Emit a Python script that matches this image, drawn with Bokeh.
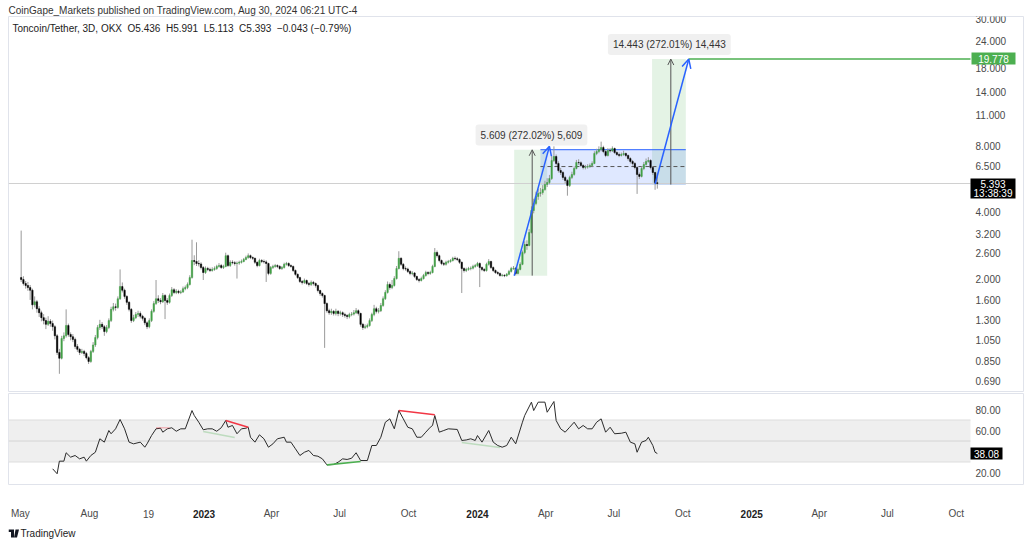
import math
import pandas as pd
from bokeh.plotting import figure
from bokeh.layouts import column
from bokeh.models import (Range1d, Label, BoxAnnotation, Arrow, OpenHead, ColumnDataSource)
from bokeh.core.properties import value
from bokeh.embed import file_html
from bokeh.resources import INLINE

# ---------------- data ----------------
last_candle = "2024-08-28"
n_candles = 284
first_open = 2.02

closes = [
    1.98, 1.90, 1.86, 1.82, 1.77, 1.52, 1.57, 1.46, 1.40, 1.33,
    1.29, 1.24, 1.28, 1.25, 1.21, 1.10, 0.925, 0.87, 1.07, 1.10,
    1.225, 1.115, 1.09, 1.06, 0.985, 0.955, 0.925, 0.935, 0.915, 0.876,
    0.842, 0.935, 1.00, 1.08, 1.20, 1.24, 1.21, 1.15, 1.20, 1.29,
    1.45, 1.49, 1.48, 1.62, 1.84, 1.77, 1.66, 1.56, 1.45, 1.29,
    1.33, 1.375, 1.39, 1.35, 1.32, 1.26, 1.21, 1.29, 1.42, 1.54,
    1.62, 1.59, 1.57, 1.675, 1.59, 1.56, 1.675, 1.78, 1.73, 1.75,
    1.73, 1.74, 1.80, 1.82, 1.88, 2.02, 2.415, 2.39, 2.34, 2.33,
    2.245, 2.13, 2.22, 2.20, 2.175, 2.20, 2.22, 2.27, 2.29, 2.245,
    2.27, 2.54, 2.29, 2.37, 2.36, 2.34, 2.35, 2.37, 2.39, 2.44,
    2.49, 2.54, 2.49, 2.47, 2.37, 2.29, 2.415, 2.39, 2.38, 2.34,
    2.11, 2.245, 2.27, 2.29, 2.27, 2.22, 2.245, 2.32, 2.34, 2.29,
    2.27, 2.175, 2.09, 2.02, 1.94, 1.92, 1.96, 1.90, 1.88, 1.92,
    1.90, 1.86, 1.765, 1.71, 1.675, 1.54, 1.43, 1.40, 1.42, 1.39,
    1.42, 1.39, 1.40, 1.375, 1.36, 1.345, 1.375, 1.38, 1.40, 1.43,
    1.39, 1.24, 1.20, 1.21, 1.225, 1.29, 1.375, 1.46, 1.42, 1.43,
    1.51, 1.62, 1.73, 1.88, 1.82, 1.86, 2.00, 2.22, 2.47, 2.32,
    2.22, 2.21, 2.155, 2.11, 2.12, 2.045, 1.98, 1.96, 2.00, 2.065,
    2.13, 2.11, 2.13, 2.27, 2.625, 2.54, 2.415, 2.34, 2.32, 2.37,
    2.39, 2.415, 2.47, 2.46, 2.44, 2.37, 2.22, 2.175, 2.20, 2.22,
    2.23, 2.27, 2.29, 2.34, 2.245, 2.20, 2.175, 2.32, 2.39, 2.245,
    2.175, 2.13, 2.11, 2.065, 2.07, 2.06, 2.09, 2.155, 2.22, 2.23,
    2.11, 2.20, 2.32, 2.625, 2.85, 2.825, 3.235, 4.07, 4.38, 4.71,
    4.86, 4.91, 5.07, 5.34, 5.45, 5.68, 6.86, 7.15, 6.65, 6.18,
    6.05, 5.75, 5.57, 5.28, 5.75, 5.93, 6.31, 6.72, 6.70, 6.51,
    6.38, 6.40, 6.44, 6.51, 6.65, 7.38, 7.53, 7.69, 7.85, 7.53,
    7.23, 7.61, 7.58, 7.77, 7.45, 7.30, 7.23, 7.30, 7.38, 7.23,
    7.00, 6.79, 6.65, 6.38, 5.93, 5.81, 6.31, 6.58, 6.79, 6.86,
    6.38, 6.05, 5.436, 5.393,
]

highs = [
    3.30, 2.05, 1.95, 1.93, 1.87, 1.80, 1.66, 1.60, 1.50, 1.43,
    1.38, 1.33, 1.35, 1.31, 1.29, 1.23, 1.12, 0.96, 1.10, 1.14,
    1.45, 1.25, 1.14, 1.12, 1.08, 1.01, 0.97, 0.96, 0.95, 0.93,
    0.89, 0.95, 1.03, 1.11, 1.23, 1.30, 1.27, 1.23, 1.23, 1.32,
    1.49, 1.55, 1.54, 1.66, 2.20, 1.92, 1.80, 1.68, 1.58, 1.47,
    1.37, 1.41, 1.43, 1.42, 1.37, 1.34, 1.28, 1.32, 1.45, 1.58,
    1.97, 1.68, 1.63, 1.72, 1.70, 1.63, 1.71, 1.83, 1.81, 1.79,
    1.78, 1.77, 1.84, 1.86, 1.92, 2.07, 3.00, 2.55, 2.92, 2.42,
    2.37, 2.28, 2.27, 2.26, 2.24, 2.25, 2.27, 2.31, 2.35, 2.33,
    2.31, 2.62, 2.57, 2.42, 2.42, 2.40, 2.39, 2.41, 2.44, 2.48,
    2.54, 2.60, 2.57, 2.52, 2.49, 2.39, 2.46, 2.45, 2.44, 2.42,
    2.36, 2.28, 2.31, 2.33, 2.32, 2.30, 2.28, 2.36, 2.38, 2.37,
    2.32, 2.29, 2.20, 2.11, 2.04, 1.97, 2.00, 1.98, 1.93, 1.96,
    1.95, 1.92, 1.88, 1.78, 1.73, 1.69, 1.56, 1.46, 1.46, 1.44,
    1.46, 1.44, 1.43, 1.42, 1.40, 1.38, 1.40, 1.41, 1.44, 1.47,
    1.45, 1.40, 1.26, 1.24, 1.25, 1.32, 1.40, 1.52, 1.49, 1.47,
    1.55, 1.66, 1.77, 1.94, 1.92, 1.97, 2.05, 2.28, 2.66, 2.50,
    2.35, 2.27, 2.24, 2.18, 2.16, 2.14, 2.06, 2.01, 2.04, 2.10,
    2.17, 2.16, 2.17, 2.31, 2.75, 2.68, 2.57, 2.44, 2.38, 2.41,
    2.43, 2.45, 2.51, 2.52, 2.50, 2.47, 2.39, 2.25, 2.24, 2.26,
    2.27, 2.31, 2.33, 2.38, 2.37, 2.27, 2.23, 2.36, 2.45, 2.41,
    2.27, 2.20, 2.16, 2.13, 2.10, 2.09, 2.12, 2.19, 2.26, 2.28,
    2.25, 2.24, 2.37, 2.68, 2.95, 2.98, 3.35, 4.25, 4.60, 4.95,
    5.10, 5.15, 5.30, 5.55, 5.70, 5.90, 7.20, 7.95, 7.30, 6.80,
    6.35, 6.15, 5.85, 5.65, 5.85, 6.10, 6.45, 6.90, 6.95, 6.80,
    6.60, 6.55, 6.60, 6.65, 6.80, 7.55, 7.75, 7.95, 8.35, 8.00,
    7.65, 7.80, 7.80, 7.95, 7.85, 7.55, 7.45, 7.45, 7.60, 7.45,
    7.30, 7.10, 6.90, 6.75, 6.45, 6.05, 6.45, 6.75, 7.00, 7.10,
    6.95, 6.45, 6.10, 5.991,
]

lows = [
    1.93, 1.86, 1.80, 1.76, 1.60, 1.45, 1.48, 1.40, 1.34, 1.28,
    1.24, 1.18, 1.22, 1.21, 1.16, 1.06, 0.90, 0.74, 0.86, 1.04,
    1.08, 1.09, 1.05, 1.03, 0.96, 0.93, 0.90, 0.91, 0.89, 0.86,
    0.82, 0.83, 0.92, 0.98, 1.06, 1.17, 1.18, 1.10, 1.13, 1.18,
    1.27, 1.42, 1.43, 1.46, 1.60, 1.73, 1.62, 1.52, 1.42, 1.26,
    1.27, 1.31, 1.34, 1.32, 1.29, 1.23, 1.18, 1.19, 1.27, 1.40,
    1.52, 1.55, 1.53, 1.55, 1.31, 1.52, 1.54, 1.65, 1.70, 1.70,
    1.70, 1.70, 1.72, 1.77, 1.79, 1.86, 2.00, 2.30, 2.28, 2.27,
    2.20, 1.97, 2.10, 2.16, 2.14, 2.15, 2.17, 2.19, 2.24, 2.21,
    2.21, 2.25, 2.26, 2.26, 2.32, 2.29, 2.00, 2.31, 2.34, 2.37,
    2.42, 2.46, 2.45, 2.43, 2.33, 2.25, 2.27, 2.35, 2.34, 1.93,
    2.07, 2.08, 2.21, 2.24, 2.23, 2.19, 2.19, 2.22, 2.29, 2.26,
    2.24, 2.14, 2.06, 1.99, 1.91, 1.88, 1.89, 1.87, 1.84, 1.85,
    1.86, 1.82, 1.73, 1.67, 1.64, 0.97, 1.40, 1.37, 1.37, 1.36,
    1.36, 1.35, 1.36, 1.34, 1.33, 1.31, 1.32, 1.35, 1.36, 1.38,
    1.36, 1.21, 1.17, 1.18, 1.19, 1.21, 1.27, 1.35, 1.39, 1.39,
    1.41, 1.49, 1.60, 1.71, 1.78, 1.79, 1.84, 1.98, 2.20, 2.28,
    2.18, 2.17, 2.12, 2.07, 2.07, 2.01, 1.95, 1.92, 1.94, 1.98,
    2.04, 2.07, 2.08, 2.11, 2.25, 2.49, 2.37, 2.30, 2.28, 2.29,
    2.34, 2.36, 2.39, 2.42, 2.40, 2.33, 1.72, 2.13, 2.14, 2.17,
    2.18, 2.20, 2.24, 2.26, 1.83, 2.16, 2.14, 2.15, 2.29, 2.21,
    2.14, 2.10, 2.08, 2.04, 2.04, 2.03, 2.04, 2.07, 2.13, 2.19,
    2.07, 2.09, 2.18, 2.30, 2.58, 2.70, 2.80, 3.20, 3.95, 4.30,
    4.55, 4.70, 4.80, 5.00, 5.20, 5.35, 5.60, 6.75, 6.50, 6.05,
    5.90, 5.60, 5.40, 4.75, 5.20, 5.65, 5.85, 6.25, 6.55, 6.40,
    6.25, 6.25, 6.30, 6.35, 6.40, 6.60, 7.25, 7.40, 7.55, 7.40,
    7.10, 7.15, 7.45, 7.50, 7.35, 7.20, 7.10, 7.15, 7.20, 7.10,
    6.85, 6.65, 6.50, 6.25, 4.84, 5.65, 5.75, 6.20, 6.50, 6.70,
    6.25, 5.90, 5.05, 5.113,
]

# RSI(14) readings: candle index -> value
rsi_idx = [
    14, 16, 17, 19, 20, 22, 24, 26, 28, 29,
    31, 33, 35, 37, 39, 40, 42, 44, 46, 48,
    50, 53, 55, 56, 58, 60, 62, 63, 65, 67,
    69, 71, 73, 76, 77, 79, 81, 83, 85, 87,
    89, 91, 92, 94, 96, 98, 100, 101, 102, 104,
    106, 108, 110, 112, 114, 117, 118, 120, 122, 124,
    126, 128, 130, 132, 134, 136, 139, 141, 143, 145,
    147, 149, 151, 154, 156, 158, 160, 162, 164, 166,
    168, 170, 172, 174, 176, 178, 180, 182, 183, 184,
    186, 188, 190, 194, 196, 198, 200, 202, 203, 205,
    208, 210, 212, 214, 216, 218, 220, 223, 224, 227,
    228, 230, 233, 234, 237, 238, 240, 242, 244, 246,
    248, 250, 252, 254, 256, 258, 260, 262, 264, 267,
    269, 271, 273, 274, 276, 278, 279, 281, 282, 283,
]
rsi_val = [
    23.5, 18.8, 30.8, 30.8, 38.8, 34.6, 36.2, 33.0, 34.6, 30.8,
    36.2, 39.3, 52.1, 48.9, 60.0, 56.9, 61.6, 70.5, 61.6, 48.9,
    47.3, 48.9, 44.1, 47.3, 55.2, 61.6, 62.2, 58.4, 61.6, 62.6,
    59.3, 61.6, 61.6, 79.0, 74.3, 67.9, 60.7, 61.6, 61.6, 59.3,
    62.6, 69.5, 63.1, 64.8, 56.9, 61.6, 62.2, 63.1, 53.6, 48.9,
    55.9, 52.1, 44.1, 47.3, 52.1, 53.6, 48.9, 48.9, 42.6, 36.2,
    39.3, 41.0, 36.2, 35.5, 33.0, 27.3, 27.6, 29.8, 33.0, 32.4,
    33.6, 38.8, 31.4, 31.4, 45.7, 45.7, 53.6, 67.9, 71.1, 61.6,
    79.0, 71.1, 63.1, 61.6, 53.6, 53.6, 58.4, 63.1, 64.8, 74.3,
    58.4, 60.0, 61.6, 61.0, 50.5, 51.0, 52.1, 50.5, 55.2, 48.9,
    60.0, 48.9, 45.7, 44.1, 45.7, 53.6, 47.3, 67.9, 74.3, 87.0,
    79.0, 87.0, 87.0, 77.4, 87.6, 69.5, 61.6, 58.4, 63.1, 67.9,
    61.6, 64.8, 61.6, 61.6, 67.9, 71.1, 58.4, 63.1, 56.9, 57.4,
    58.4, 48.9, 47.3, 39.3, 48.9, 50.5, 53.6, 45.7, 39.3, 38.08,
]

# RSI divergence lines (candle index, value) pairs
div_start_idx = [60, 81, 91, 136, 168, 196]
div_start_val = [62.6, 59.0, 69.5, 27.3, 79.0, 48.6]
div_end_idx = [66, 95, 101, 151, 184, 213]
div_end_val = [62.6, 53.3, 63.1, 30.5, 75.0, 43.8]
div_kind = ["bear_faint", "bull_faint", "bear", "bull", "bear", "bull_faint"]

# drawing tools
move1_from, move1_to = "2024-02-19", "2024-04-03"
move1_low, move1_high = 2.062, 7.671
move1_text = "5.609 (272.02%) 5,609"
channel_from, channel_to = "2024-03-25", "2024-10-05"
channel_low, channel_high = 5.39, 7.69
move2_from, move2_to = "2024-08-21", "2024-10-05"
move2_low, move2_high = 5.335, 19.778
move2_text = "14.443 (272.01%) 14,443"
arrow1 = ("2024-02-19", 2.06, "2024-04-06", 7.95)
arrow2 = ("2024-08-25", 5.37, "2024-10-09", 19.78)
target_price = 19.778
target_text = "19.778"
last_price = 5.393
last_text = "5.393"
countdown_text = "13:38:39"
last_rsi = 38.08
last_rsi_text = "38.08"

price_ticks = [0.69, 0.85, 1.05, 1.3, 1.6, 2.0, 2.6, 3.2, 4.0, 6.5, 8.0, 11.0, 14.0, 18.0, 24.0, 30.0]
price_tick_labels = ["0.690", "0.850", "1.050", "1.300", "1.600", "2.000", "2.600", "3.200",
                     "4.000", "6.500", "8.000", "11.000", "14.000", "18.000", "24.000", "30.000"]
rsi_ticks = [20, 60, 80]
rsi_tick_labels = ["20.00", "60.00", "80.00"]
time_tick_dates = ["2022-05-01", "2022-08-01", "2022-10-19", "2023-01-01", "2023-04-01",
                   "2023-07-01", "2023-10-01", "2024-01-01", "2024-04-01", "2024-07-01",
                   "2024-10-01", "2025-01-01", "2025-04-01", "2025-07-01", "2025-10-01"]
time_tick_labels = ["May", "Aug", "19", "2023", "Apr", "Jul", "Oct", "2024", "Apr", "Jul",
                    "Oct", "2025", "Apr", "Jul", "Oct"]

header_text = "CoinGape_Markets published on TradingView.com, Aug 30, 2024 06:21 UTC-4"
legend_text = ("Toncoin/Tether, 3D, OKX\u00a0\u00a0O5.436\u00a0\u00a0H5.991\u00a0\u00a0L5.113"
               "\u00a0\u00a0C5.393\u00a0\u00a0\u22120.043 (\u22120.79%)")
footer_text = "TradingView"

# ---------------- layout helpers (pixel calibration, not data) ----------------
DAY = 86400000
FONT = "Liberation Sans"
GREEN = "#43a047"
TGREEN = "#4caf50"
BLUE = "#2962ff"
RED = "#f23645"


def ms(d):
    return pd.Timestamp(d).value // 10**6


def px_x(px):  # page x pixel -> time (ms)
    return ms("2023-01-01") + (px - 203.5) / 0.7493 * DAY


def px_price(py):  # page y pixel -> price on the log scale
    return 24.0 * math.exp(-(py - 40.0) / 95.8)


X_LO, X_HI, X_EDGE, X_LBL = px_x(8), px_x(1024), px_x(970), px_x(975)

dates = pd.date_range(end=last_candle, periods=n_candles, freq="3D")
xs = [int(t.value // 10**6) for t in dates]
opens = [first_open] + closes[:-1]

x_shared = Range1d(X_LO, X_HI)


def base_fig(y_range, y_type, frame_h, top_border):
    f = figure(x_axis_type="datetime", y_axis_type=y_type,
               x_range=x_shared, y_range=y_range,
               frame_width=1016, frame_height=frame_h,
               min_border_left=8, min_border_right=0, min_border_top=top_border,
               min_border_bottom=0, x_axis_location=None, y_axis_location=None,
               toolbar_location=None, output_backend="svg")
    f.xgrid.visible = False
    f.ygrid.visible = False
    f.background_fill_color = "white"
    f.border_fill_color = "white"
    f.outline_line_color = "#e0e3eb"
    return f


# ---------------- price pane ----------------
p = base_fig(Range1d(px_price(392), px_price(16)), "log", 376, 16)
p.title.text = header_text
p.title.text_font = FONT
p.title.text_font_size = "10px"
p.title.text_font_style = "normal"
p.title.text_color = "#333333"
p.title.align = "left"
p.title.standoff = 2

# measurement boxes and channel (under the candles)
p.add_layout(BoxAnnotation(left=ms(move1_from), right=ms(move1_to), bottom=move1_low, top=move1_high,
                           fill_color=TGREEN, fill_alpha=0.15, line_color=None, level="underlay"))
p.add_layout(BoxAnnotation(left=ms(move2_from), right=ms(move2_to), bottom=move2_low, top=move2_high,
                           fill_color=TGREEN, fill_alpha=0.15, line_color=None, level="underlay"))
p.add_layout(BoxAnnotation(left=ms(channel_from), right=ms(channel_to), bottom=channel_low, top=channel_high,
                           fill_color=BLUE, fill_alpha=0.15, line_color=None, level="underlay"))
p.segment(x0=[ms(channel_from)] * 2, x1=[ms(channel_to)] * 2, y0=[channel_low, channel_high],
          y1=[channel_low, channel_high], line_color=BLUE, line_width=1.3, line_alpha=0.8)
mid = (channel_low * channel_high) ** 0.5
p.segment(x0=[ms(channel_from)], x1=[ms(channel_to)], y0=[mid], y1=[mid],
          line_color="#555555", line_width=1, line_dash="4 3")

# last price line
p.segment(x0=[X_LO], x1=[X_EDGE], y0=[last_price], y1=[last_price], line_color="#d0d0d0", line_width=1)

# candles
up = [c >= o for o, c in zip(opens, closes)]
src_up = ColumnDataSource(dict(x=[x for x, u in zip(xs, up) if u],
                               top=[c for c, u in zip(closes, up) if u],
                               bottom=[o for o, u in zip(opens, up) if u]))
src_dn = ColumnDataSource(dict(x=[x for x, u in zip(xs, up) if not u],
                               top=[o for o, u in zip(opens, up) if not u],
                               bottom=[c for c, u in zip(closes, up) if not u]))
p.segment(x0=xs, x1=xs, y0=lows, y1=highs, line_color="#9a9a9a", line_width=1)
p.vbar(x="x", top="top", bottom="bottom", width=3 * DAY * 0.62, source=src_up,
       fill_color=GREEN, line_color=GREEN, line_width=0.5)
p.vbar(x="x", top="top", bottom="bottom", width=3 * DAY * 0.62, source=src_dn,
       fill_color="#000000", line_color="#000000", line_width=0.5)

# measure arrows (vertical)
m1x = ms("2024-03-14")
m2x = ms("2024-09-15")
for mx, lo, hi in ((m1x, move1_low, move1_high), (m2x, move2_low, move2_high)):
    p.add_layout(Arrow(end=OpenHead(size=6, line_color="#555555", line_width=1),
                       x_start=mx, y_start=lo, x_end=mx, y_end=hi,
                       line_color="#555555", line_width=1))

# blue projection arrows
for a in (arrow1, arrow2):
    p.add_layout(Arrow(end=OpenHead(size=9, line_color=BLUE, line_width=1.5),
                       x_start=ms(a[0]), y_start=a[1], x_end=ms(a[2]), y_end=a[3],
                       line_color=BLUE, line_width=1.5))

# target line
p.line(x=[ms(arrow2[2]), X_EDGE], y=[target_price, target_price], line_color=TGREEN, line_width=1.5)

# measurement labels
for lx, ly, txt in ((ms("2024-03-13"), px_price(134.5), move1_text),
                    (ms("2024-09-13"), px_price(44), move2_text)):
    p.add_layout(Label(x=lx, y=ly, text=txt, text_align="center",
                       text_baseline="middle", text_font=FONT, text_font_size="10px",
                       text_color="#333333", background_fill_color="#f0f0f0",
                       padding=5, border_radius=3))

# legend line
p.add_layout(Label(x=4, y=364, x_units="screen", y_units="screen", text=legend_text,
                   text_baseline="middle", text_font=FONT, text_font_size="10px",
                   text_color="#222222"))

# right price scale
p.text(x=[X_LBL] * len(price_ticks), y=price_ticks, text=price_tick_labels,
       text_font=value(FONT), text_font_size="10px", text_baseline="middle",
       text_color="#4a4a4a")
p.rect(x=[px_x(993)], y=[px_price(58)], width=44, height=12,
       width_units="screen", height_units="screen", fill_color=TGREEN, line_color=None)
p.text(x=[px_x(993)], y=[px_price(58)], text=[target_text], text_align="center",
       text_baseline="middle", text_font=value(FONT), text_font_size="10px", text_color="white")
p.rect(x=[px_x(992.5)], y=[px_price(188)], width=45, height=20,
       width_units="screen", height_units="screen", fill_color="#000000", line_color=None)
p.text(x=[px_x(992.5)] * 2, y=[px_price(183), px_price(192.5)], text=[last_text, countdown_text],
       text_align="center", text_baseline="middle", text_font=value(FONT),
       text_font_size="10px", text_color="white")

# ---------------- RSI pane ----------------
RSI_TOP_PX, RSI_BOT_PX = 393, 485


def px_rsi(py):
    return 80.0 - (py - 409.0) / 1.05


r = base_fig(Range1d(px_rsi(RSI_BOT_PX), px_rsi(RSI_TOP_PX)), "linear", RSI_BOT_PX - RSI_TOP_PX, 1)

r.add_layout(BoxAnnotation(left=X_LO, right=X_EDGE, bottom=30, top=70, fill_color="#efefef",
                           fill_alpha=1, line_color=None, level="underlay"))
r.segment(x0=[X_LO] * 3, x1=[X_EDGE] * 3, y0=[70, 50, 30], y1=[70, 50, 30],
          line_color=["#dddddd", "#d4d4d4", "#dddddd"], line_width=1)

r.line(x=[xs[i] for i in rsi_idx], y=rsi_val, line_color="#2a2a2a", line_width=1)

styles = {"bear": (RED, 1.0), "bull": (TGREEN, 1.0),
          "bear_faint": (RED, 0.3), "bull_faint": (TGREEN, 0.3)}
for i0, v0, i1, v1, k in zip(div_start_idx, div_start_val, div_end_idx, div_end_val, div_kind):
    colr, alpha = styles[k]
    r.line(x=[xs[i0], xs[i1]], y=[v0, v1], line_color=colr, line_alpha=alpha, line_width=1.6)

r.text(x=[X_LBL] * len(rsi_ticks), y=rsi_ticks, text=rsi_tick_labels,
       text_font=value(FONT), text_font_size="10px", text_baseline="middle", text_color="#4a4a4a")
r.rect(x=[px_x(986)], y=[last_rsi], width=32, height=12,
       width_units="screen", height_units="screen", fill_color="#000000", line_color=None)
r.text(x=[px_x(986)], y=[last_rsi], text=[last_rsi_text], text_align="center",
       text_baseline="middle", text_font=value(FONT), text_font_size="10px", text_color="white")

# ---------------- time scale + footer ----------------
T_H = 545 - RSI_BOT_PX
t = base_fig(Range1d(0, T_H), "linear", T_H, 0)
t.outline_line_color = None
year = [lbl.isdigit() and len(lbl) == 4 for lbl in time_tick_labels]
t.text(x=[ms(d) for d, y in zip(time_tick_dates, year) if not y], y=[545 - 513] * year.count(False),
       text=[l for l, y in zip(time_tick_labels, year) if not y], text_align="center",
       text_baseline="middle", text_font=value(FONT), text_font_size="10px", text_color="#4a4a4a")
t.text(x=[ms(d) for d, y in zip(time_tick_dates, year) if y], y=[545 - 513] * year.count(True),
       text=[l for l, y in zip(time_tick_labels, year) if y], text_align="center",
       text_baseline="middle", text_font=value(FONT), text_font_size="10px",
       text_font_style="bold", text_color="#222222")
# TradingView logo mark + name
t.quad(left=[px_x(8), px_x(10.5)], right=[px_x(13.5), px_x(13.5)],
       bottom=[545 - 531.5, 545 - 537], top=[545 - 529, 545 - 531.5], fill_color="#131722", line_color=None)
t.patch(x=[px_x(15), px_x(18.5), px_x(16.5), px_x(13.5)], y=[545 - 529, 545 - 529, 545 - 537, 545 - 537],
        fill_color="#131722", line_color=None)
t.text(x=[px_x(20)], y=[545 - 533], text=[footer_text], text_baseline="middle",
       text_font=value(FONT), text_font_size="10px", text_color="#222222")

layout = column(p, r, t)
open("out.html", "w").write(file_html(layout, INLINE))
